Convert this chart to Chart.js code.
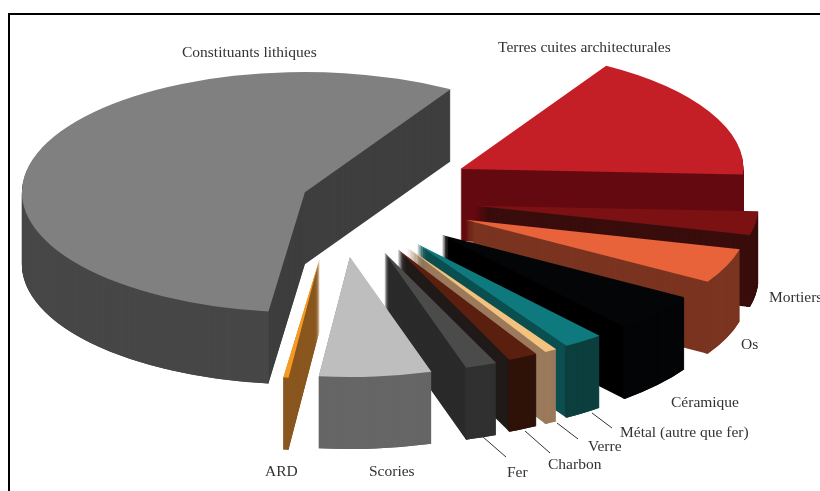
<!DOCTYPE html>
<html lang="fr">
<head>
    <meta charset="UTF-8">
    <title>Constituants</title>
    <script src="https://cdn.jsdelivr.net/npm/chart.js"></script>
    <style>
        html, body { margin: 0; background: #fff; overflow: hidden; }
        #frame { position: absolute; left: 8px; top: 13px; width: 812px; height: 478px; border-left: 2px solid #000; border-top: 2px solid #000; box-sizing: border-box; }
        #pie { position: absolute; left: 0; top: 0; }
    </style>
</head>
<body>
<div id="frame"></div>
<canvas id="pie" width="820" height="491"></canvas>

<script>
    const categories = ['Terres cuites architecturales', 'Mortiers', 'Os', 'Céramique', 'Métal (autre que fer)', 'Verre', 'Charbon', 'Fer', 'Scories', 'ARD', 'Constituants lithiques'];
    const shares = [17.1, 3.2, 4.7, 5.2, 2.3, 0.7, 1.7, 1.8, 6.4, 0.3, 56.5];
    const topColors = ['#c41f26', '#7b1113', '#e8623a', '#040506', '#0e7a7d', '#f3c27f', '#5a1f0e', '#4b4b4b', '#bebebe', '#f59a23', '#808080'];
    const sideColors = ['#640a10', '#3a0d0d', '#7a3420', '#040506', '#0c3f3e', '#9b7a5c', '#2f1208', '#303030', '#666666', '#8a571f', '#474747'];
    const cutColors = ['#640a10', '#3a0d0d', '#7a3420', '#000000', '#0b4f50', '#9b7a5c', '#1f1a18', '#2a2a2a', '#666666', '#8a571f', '#3f3f3f'];
    const explode = [140, 140, 139, 138, 136, 137, 137, 139, 141, 145, 34];

    const squash = 0.425;
    const depth = 72;

    // label text sits in the same order as categories
    const labelSpots = [[498, 52], [769, 302], [741, 349], [671, 407], [620, 437], [588, 451], [548, 469], [507, 477], [369, 476], [265, 476], [182, 57]];
    const leaders = [[483, 437, 506, 457], [525, 431, 550, 453], [557, 423, 578, 439], [592, 413, 612, 428]];

    function drawFace(ctx, arc, drop, color, strip) {
        const mid = (arc.startAngle + arc.endAngle) / 2;
        const face = Object.create(arc);
        face.options = Object.assign({}, arc.options, { offset: 0, backgroundColor: color, borderWidth: 0 });
        if (strip) {
            // only the part of the rim that faces the viewer
            face.startAngle = Math.max(arc.startAngle, 0);
            face.endAngle = Math.min(arc.endAngle, Math.PI);
            if (face.endAngle <= face.startAngle) return;
            face.circumference = face.endAngle - face.startAngle;
            face.innerRadius = arc.outerRadius - 4;
        }
        ctx.save();
        ctx.translate(arc.x, arc.y + drop);
        ctx.scale(1, squash);
        ctx.translate(-arc.x, -arc.y);
        ctx.translate(Math.cos(mid) * arc.options.offset, Math.sin(mid) * arc.options.offset);
        face.draw(ctx);
        ctx.restore();
    }

    const tiltedPie = {
        id: 'tiltedPie',
        beforeDatasetsDraw(chart) {
            const ctx = chart.ctx;
            const arcs = chart.getDatasetMeta(0).data;
            const last = arcs.length - 1;
            // the big slice sits behind all the others
            [last].concat(arcs.map((_, i) => i).slice(0, last)).forEach((i) => {
                for (let d = depth; d > 0; d--) drawFace(ctx, arcs[i], d, cutColors[i], false);
                for (let d = depth; d > 0; d--) drawFace(ctx, arcs[i], d, sideColors[i], true);
                drawFace(ctx, arcs[i], 0, topColors[i], false);
            });
            return false;
        },
        afterDraw(chart) {
            const ctx = chart.ctx;
            ctx.save();
            ctx.strokeStyle = '#333';
            ctx.lineWidth = 1;
            leaders.forEach((l) => {
                ctx.beginPath();
                ctx.moveTo(l[0], l[1]);
                ctx.lineTo(l[2], l[3]);
                ctx.stroke();
            });
            ctx.fillStyle = '#333';
            ctx.font = '15.5px "Liberation Serif"';
            ctx.textBaseline = 'alphabetic';
            categories.forEach((name, i) => ctx.fillText(name, labelSpots[i][0], labelSpots[i][1]));
            ctx.restore();
        }
    };

    new Chart(document.getElementById('pie').getContext('2d'), {
        type: 'pie',
        data: {
            labels: categories,
            datasets: [{
                data: shares,
                backgroundColor: topColors,
                borderWidth: 0,
                offset: explode
            }]
        },
        options: {
            responsive: false,
            animation: false,
            radius: 283,
            rotation: 31,
            layout: { padding: { left: 0, top: 0, right: 146, bottom: 97 } },
            events: [],
            plugins: { legend: { display: false }, tooltip: { enabled: false } }
        },
        plugins: [tiltedPie]
    });
</script>
</body>
</html>
